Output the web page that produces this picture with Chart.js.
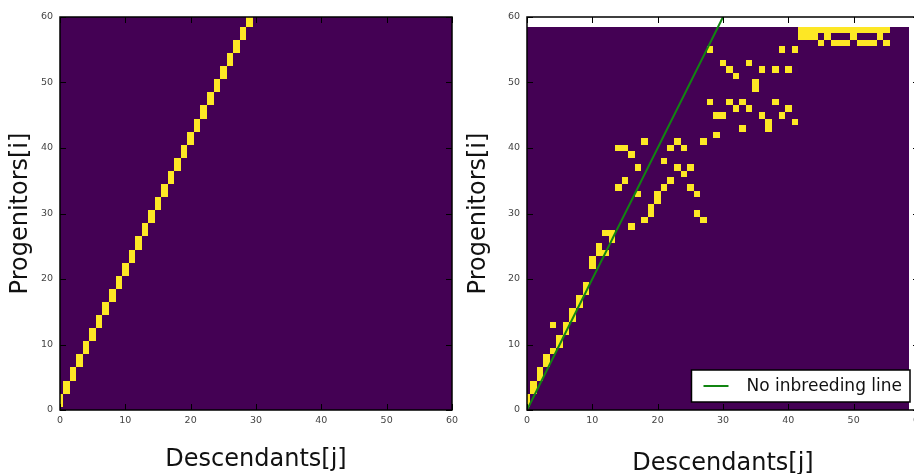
<!DOCTYPE html>
<html>
<head>
<meta charset="utf-8">
<title>Progenitors vs Descendants</title>
<script src="https://cdn.jsdelivr.net/npm/chart.js@4.4.1/dist/chart.umd.min.js"></script>
<style>
html,body{margin:0;padding:0;width:914px;height:474px;overflow:hidden;background:#fff;}
#leftBox{position:absolute;left:0;top:0;width:460px;height:474px;}
#rightBox{position:absolute;left:460px;top:0;width:466px;height:474px;}
</style>
</head>
<body>
<div id="leftBox"><canvas id="leftChart"></canvas></div>
<div id="rightBox"><canvas id="rightChart"></canvas></div>
<script>

// tick labels, same on both axes of both panels
const axisTicks=[0,10,20,30,40,50,60];

// yellow cells as [j, i]  (descendant column, progenitor row)
const leftCells=[
[0,1],[0,2],[1,3],[1,4],[2,5],[2,6],[3,7],[3,8],[4,9],[4,10],
[5,11],[5,12],[6,13],[6,14],[7,15],[7,16],[8,17],[8,18],[9,19],[9,20],
[10,21],[10,22],[11,23],[11,24],[12,25],[12,26],[13,27],[13,28],[14,29],[14,30],
[15,31],[15,32],[16,33],[16,34],[17,35],[17,36],[18,37],[18,38],[19,39],[19,40],
[20,41],[20,42],[21,43],[21,44],[22,45],[22,46],[23,47],[23,48],[24,49],[24,50],
[25,51],[25,52],[26,53],[26,54],[27,55],[27,56],[28,57],[28,58],[29,59],[29,60]
];
const leftExtent=[-0.5,60.5];

const rightCells=[
[0,1],[0,2],[1,3],[1,4],[2,5],[2,6],[3,7],[3,8],[4,9],[4,13],
[5,10],[5,11],[6,12],[6,13],[7,14],[7,15],[8,16],[8,17],[9,18],[9,19],
[10,22],[10,23],[11,24],[11,25],[12,24],[12,27],[13,26],[13,27],[16,28],
[14,34],[14,40],[15,35],[15,40],[16,39],[17,33],[17,37],[18,29],[18,41],
[19,30],[19,31],[20,32],[20,33],[21,34],[21,38],[22,35],[22,40],[23,37],[23,41],
[24,36],[24,40],[25,34],[25,37],[26,30],[26,33],[27,29],[27,41],
[28,47],[28,55],[29,42],[29,45],[30,45],[30,53],[31,47],[31,52],[32,46],[32,51],
[33,43],[33,47],[34,46],[34,53],[35,49],[35,50],[36,45],[36,52],[37,43],[37,44],
[38,47],[38,52],[39,45],[39,55],[40,46],[40,52],[41,44],[41,55],
[42,58],[43,58],[44,58],[45,58],[46,58],[47,58],[48,58],[49,58],[50,58],[51,58],
[52,58],[53,58],[54,58],[55,58],
[42,57],[43,57],[44,57],[46,57],[50,57],[54,57],
[45,56],[47,56],[48,56],[49,56],[51,56],[52,56],[53,56],[55,56]
];
const rightExtent=[-0.5,58.5];

// no inbreeding line i = 2j
const lineJ=[0,30];
const lineI=[0,60];
const lineLabel="No inbreeding line";

const FONT="'DejaVu Sans', sans-serif";

const heatmap={
    id:"heatmap",
    beforeDatasetsDraw(chart,args,opts){
        const {ctx,chartArea:a,scales:{x,y}}=chart;
        ctx.save();
        ctx.beginPath();
        ctx.rect(a.left,a.top,a.width,a.height);
        ctx.clip();
        const px=v=>Math.round(x.getPixelForValue(v));
        const py=v=>Math.round(y.getPixelForValue(v));
        ctx.fillStyle="#440154";
        ctx.fillRect(px(opts.extent[0]),py(opts.extent[1]),px(opts.extent[1])-px(opts.extent[0]),py(opts.extent[0])-py(opts.extent[1]));
        ctx.fillStyle="#fde725";
        opts.cells.forEach(([j,i])=>{
            const l=px(j-0.5),r=px(j+0.5),t=py(i+0.5),b=py(i-0.5);
            ctx.fillRect(l,t,r-l,b-t);
        });
        ctx.restore();
    },
    afterDraw(chart,args,opts){
        const {ctx,chartArea:a,scales:{x,y}}=chart;
        ctx.save();
        // inward ticks on all four sides
        ctx.strokeStyle="#000";
        ctx.lineWidth=1;
        ctx.beginPath();
        axisTicks.forEach(v=>{
            const X=Math.round(x.getPixelForValue(v))+0.5;
            ctx.moveTo(X,a.bottom);ctx.lineTo(X,a.bottom-6);
            ctx.moveTo(X,a.top);ctx.lineTo(X,a.top+6);
            const Y=Math.round(y.getPixelForValue(v))+0.5;
            ctx.moveTo(a.left,Y);ctx.lineTo(a.left+6,Y);
            ctx.moveTo(a.right,Y);ctx.lineTo(a.right-6,Y);
        });
        ctx.stroke();
        ctx.lineWidth=1.5;
        ctx.strokeRect(a.left,a.top,a.width,a.height);

        // legend box, lower right inside the plot
        if(opts.legend){
            const ds=chart.data.datasets[0];
            ctx.font="17px "+FONT;
            const tw=ctx.measureText(ds.label).width;
            const w=55+tw+8,h=32;
            const bx=a.right-9-w,by=a.bottom-8-h;
            ctx.fillStyle="#fff";
            ctx.fillRect(bx,by,w,h);
            ctx.strokeStyle="#000";
            ctx.lineWidth=1.5;
            ctx.strokeRect(bx,by,w,h);
            ctx.strokeStyle=ds.borderColor;
            ctx.lineWidth=2;
            ctx.beginPath();
            ctx.moveTo(bx+12,by+h/2);ctx.lineTo(bx+37,by+h/2);
            ctx.stroke();
            ctx.fillStyle="#111";
            ctx.textBaseline="middle";
            ctx.fillText(ds.label,bx+55,by+h/2+1);
        }
        ctx.restore();
    }
};

function makeScales(yWidth,yTitlePad,xTitlePad){
    const tickFont={family:FONT,size:9.5};
    const titleFont={family:FONT,size:24,lineHeight:1.2};
    return {
        x:{
            type:"linear",min:0,max:60,
            afterBuildTicks(s){s.ticks=axisTicks.map(v=>({value:v}));},
            ticks:{color:"#444",font:tickFont,padding:5,maxRotation:0},
            grid:{display:false,drawTicks:false},
            border:{display:false},
            title:{display:true,text:"Descendants[j]",color:"#111",font:titleFont,padding:{top:0,bottom:xTitlePad}},
            afterFit(s){s.height=64;s.paddingLeft=0;s.paddingRight=0;}
        },
        y:{
            type:"linear",min:0,max:60,
            afterBuildTicks(s){s.ticks=axisTicks.map(v=>({value:v}));},
            ticks:{color:"#444",font:tickFont,padding:7},
            grid:{display:false,drawTicks:false},
            border:{display:false},
            title:{display:true,text:"Progenitors[i]",color:"#111",font:titleFont,padding:{top:yTitlePad,bottom:0}},
            afterFit(s){s.width=yWidth;}
        }
    };
}

new Chart(document.getElementById("leftChart"),{
    type:"scatter",
    data:{datasets:[]},
    options:{
        responsive:true,
        maintainAspectRatio:false,
        animation:false,
        layout:{padding:{top:17,right:8,left:0,bottom:0}},
        scales:makeScales(60,6,0),
        plugins:{
            legend:{display:false},
            tooltip:{enabled:false},
            heatmap:{cells:leftCells,extent:leftExtent,legend:false}
        }
    },
    plugins:[heatmap]
});

new Chart(document.getElementById("rightChart"),{
    type:"scatter",
    data:{
        datasets:[{
            label:lineLabel,
            data:lineJ.map((j,k)=>({x:j,y:lineI[k]})),
            showLine:true,
            borderColor:"#118511",
            borderWidth:2,
            pointRadius:0
        }]
    },
    options:{
        responsive:true,
        maintainAspectRatio:false,
        animation:false,
        layout:{padding:{top:17,right:7,left:0,bottom:0}},
        scales:makeScales(67,4,-4),
        plugins:{
            legend:{display:false},
            tooltip:{enabled:false},
            heatmap:{cells:rightCells,extent:rightExtent,legend:true}
        }
    },
    plugins:[heatmap]
});
</script>
</body>
</html>
